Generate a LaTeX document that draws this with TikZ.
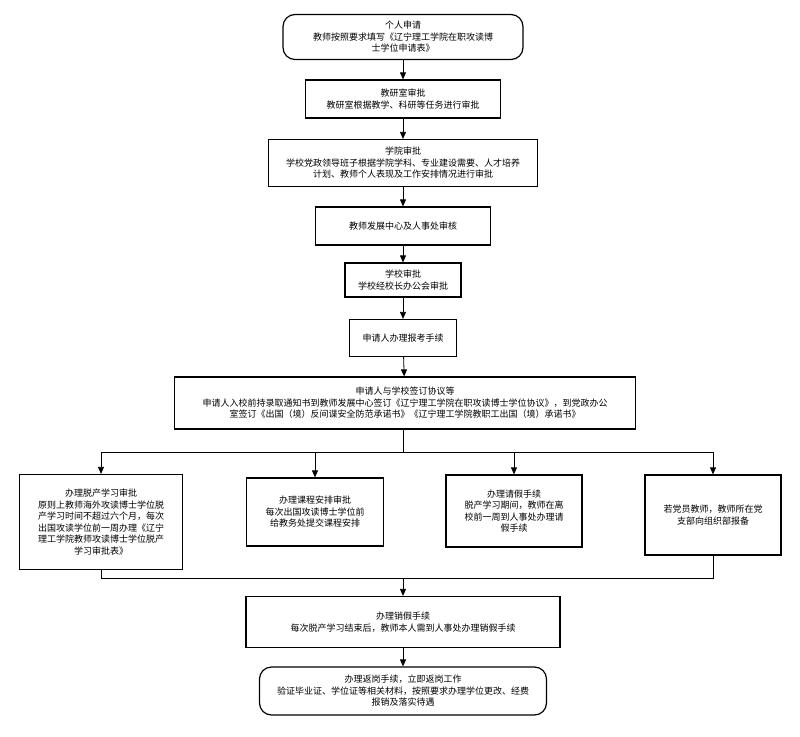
\documentclass[tikz,border=0pt]{standalone}
\usepackage{fontspec}
\setmainfont{Noto Sans CJK SC}
\usetikzlibrary{arrows.meta}
\begin{document}
\begin{tikzpicture}[x=1pt,y=-1pt,
 bx/.style={draw,line width=1.2pt,align=center,font=\fontsize{9}{11.5}\selectfont,inner sep=2pt},
 rbx/.style={bx,rounded corners=12pt},
 ar/.style={-{Triangle[length=7pt,width=6pt]},line width=0.8pt},
 ln/.style={line width=0.8pt}]
\useasboundingbox (0,0) rectangle (800,736);
\node[rbx,minimum width=240pt,minimum height=45pt] (n1) at (403,37) {个人申请\\教师按照要求填写《辽宁理工学院在职攻读博\\士学位申请表》};
\node[bx,minimum width=195pt,minimum height=38pt] (n2) at (403,99) {教研室审批\\教研室根据教学、科研等任务进行审批};
\node[bx,minimum width=269pt,minimum height=47pt] (n3) at (403,163) {学院审批\\学校党政领导班子根据学院学科、专业建设需要、人才培养\\计划、教师个人表现及工作安排情况进行审批};
\node[bx,minimum width=175pt,minimum height=38pt] (n4) at (403,226) {教师发展中心及人事处审核};
\node[bx,minimum width=116pt,minimum height=34pt] (n5) at (403,280) {学校审批\\学校经校长办公会审批};
\node[bx,minimum width=107pt,minimum height=37pt] (n6) at (403,338) {申请人办理报考手续};
\node[bx,minimum width=461pt,minimum height=52pt] (n7) at (405,403) {申请人与学校签订协议等\\申请人入校前持录取通知书到教师发展中心签订《辽宁理工学院在职攻读博士学位协议》，到党政办公\\室签订《出国（境）反间谍安全防范承诺书》《辽宁理工学院教职工出国（境）承诺书》};
\node[bx,minimum width=163pt,minimum height=95pt] (a) at (101,522) {办理脱产学习审批\\原则上教师海外攻读博士学位脱\\产学习时间不超过六个月，每次\\出国攻读学位前一周办理《辽宁\\理工学院教师攻读博士学位脱产\\学习审批表》};
\node[bx,minimum width=137pt,minimum height=68pt] (b) at (315,512) {办理课程安排审批\\每次出国攻读博士学位前\\给教务处提交课程安排};
\node[bx,minimum width=136pt,minimum height=72pt] (c) at (514,511) {办理请假手续\\脱产学习期间，教师在离\\校前一周到人事处办理请\\假手续};
\node[bx,minimum width=136pt,minimum height=80pt] (d) at (713,515) {若党员教师，教师所在党\\支部向组织部报备};
\node[bx,minimum width=314pt,minimum height=51pt] (n9) at (403,622) {办理销假手续\\每次脱产学习结束后，教师本人需到人事处办理销假手续};
\node[rbx,minimum width=287pt,minimum height=48pt] (n10) at (403,691) {办理返岗手续，立即返岗工作\\验证毕业证、学位证等相关材料，按照要求办理学位更改、经费\\报销及落实待遇};
\draw[ar] (n1) -- (n2);
\draw[ar] (n2) -- (n3);
\draw[ar] (n3) -- (n4);
\draw[ar] (n4) -- (n5);
\draw[ar] (n5) -- (n6);
\draw[ar] (n6) -- (n7);
\coordinate (s) at (403,452);
\draw[ln] (n7.south -| s) -- (s);
\draw[ln] (s -| a) -- (s -| d);
\draw[ar] (s -| a) -- (a);
\draw[ar] (s -| b) -- (b);
\draw[ar] (s -| c) -- (c);
\draw[ar] (s -| d) -- (d);
\coordinate (m) at (403,578);
\draw[ln] (a.south) -- (m -| a) -- (m -| d) -- (d.south);
\draw[ar] (m) -- (n9);
\draw[ar] (n9) -- (n10);
\end{tikzpicture}
\end{document}
